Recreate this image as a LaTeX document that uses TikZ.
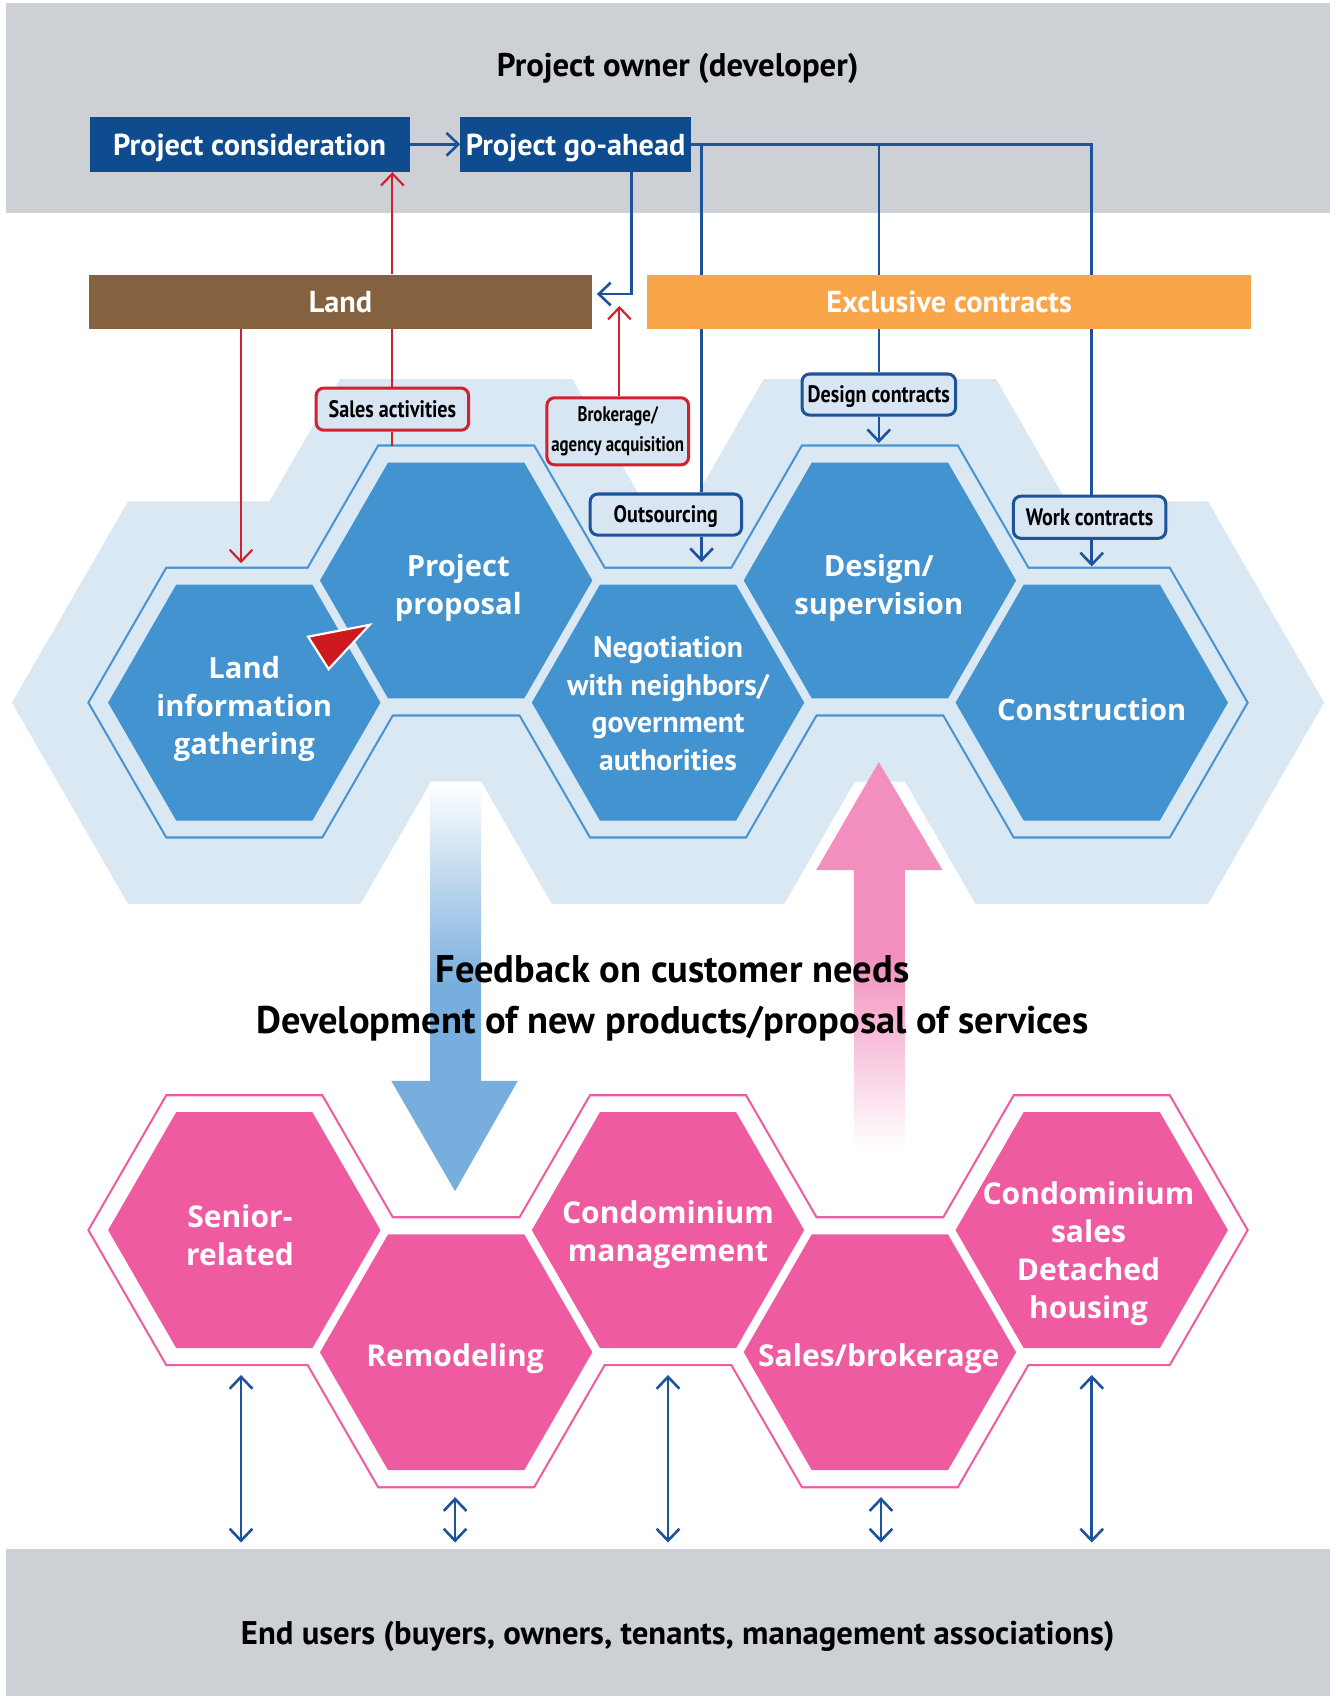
\documentclass[tikz,border=0pt]{standalone}
\usepackage{fontspec}
\setmainfont{PT Sans}
\newfontfamily\hexfont{Open Sans}
\newfontfamily\condfont{PT Sans}[FakeStretch=0.845]
\newfontfamily\condfontb{PT Sans}[FakeStretch=0.8]
\usetikzlibrary{arrows.meta}
\definecolor{bandgray}{HTML}{CDD1D5}
\definecolor{darkblue}{HTML}{0F4C8F}
\definecolor{brown}{HTML}{85623F}
\definecolor{orange}{HTML}{F9A54A}
\definecolor{bgblue}{HTML}{DAE8F4}
\definecolor{hexblue}{HTML}{4393D0}
\definecolor{hexline}{HTML}{4A93D1}
\definecolor{hexpink}{HTML}{EF5BA1}
\definecolor{lineblue}{HTML}{1C539A}
\definecolor{linered}{HTML}{D1202F}
\definecolor{labfill}{HTML}{D8E5F3}
\definecolor{arrowblue}{HTML}{78AEDD}
\definecolor{arrowpink}{HTML}{F28FBE}
\definecolor{trired}{HTML}{CC1A1E}
\newcommand\myhex[3]{\path[#1] (#2) ++(0:#3) -- ++(120:#3) -- ++(180:#3) -- ++(240:#3) -- ++(300:#3) -- ++(0:#3) -- cycle;}
\tikzset{
  >={Straight Barb[length=11pt,width=21pt]},
  bluebox/.style={fill=darkblue, text=white, minimum height=51pt, inner sep=0pt, text height=21pt, text depth=1pt, font=\fontsize{28}{32}\selectfont\bfseries},
  barbox/.style={minimum height=50pt, inner sep=0pt, text=white, text height=21pt, text depth=1pt, font=\fontsize{28}{32}\selectfont\bfseries},
  lab/.style={draw, line width=2.8pt, rounded corners=7pt, fill=labfill, inner sep=0pt, align=center, font=\condfont\bfseries\fontsize{22}{24}\selectfont},
  onelab/.style={lab, text height=16pt, text depth=1pt},
  bline/.style={draw=lineblue, line width=2.4pt},
  rline/.style={draw=linered, line width=2pt},
  hextext/.style={text=white, align=center, font=\hexfont\bfseries\fontsize{27}{35}\selectfont},
  pinktext/.style={text=white, align=center, font=\hexfont\bfseries\fontsize{27.8}{35}\selectfont},
  negtext/.style={text=white, align=center, font=\bfseries\fontsize{27.5}{35}\selectfont},
  head/.style={font=\bfseries\fontsize{30.3}{34}\selectfont},
  bighead/.style={font=\bfseries\fontsize{35.6}{40}\selectfont},
}
\begin{document}
\begin{tikzpicture}[x=1pt,y=-1pt]
\useasboundingbox (0,0) rectangle (1237,1569);
% bands
\fill[bandgray] (6,3) rectangle (1230,197);
\fill[bandgray] (6,1433) rectangle (1230,1569);
\node[head] (owner) at (627,63) {Project owner (developer)};
\node[head] (users) at (627,1514) {End users (buyers, owners, tenants, management associations)};
% hex centres
\coordinate (b1) at (226,650);
\coordinate (b2) at (422,537);
\coordinate (b3) at (618,650);
\coordinate (b4) at (814,537);
\coordinate (b5) at (1010,650);
\coordinate (p1) at (226,1138);
\coordinate (p2) at (422,1251);
\coordinate (p3) at (618,1138);
\coordinate (p4) at (814,1251);
\coordinate (p5) at (1010,1138);
% background
\foreach \c in {b1,b2,b3,b4,b5} {\myhex{fill=bgblue}{\c}{215}}
\foreach \c in {b1,b2,b3,b4,b5} {\myhex{draw=hexline,line width=4pt}{\c}{143}}
\foreach \c in {b1,b2,b3,b4,b5} {\myhex{fill=bgblue}{\c}{143}}
\foreach \c in {b1,b2,b3,b4,b5} {\myhex{fill=hexblue}{\c}{126}}
\foreach \c in {p1,p2,p3,p4,p5} {\myhex{draw=hexpink,line width=4pt}{\c}{143}}
\foreach \c in {p1,p2,p3,p4,p5} {\myhex{fill=white}{\c}{143}}
\foreach \c in {p1,p2,p3,p4,p5} {\myhex{fill=hexpink}{\c}{126}}
% hex texts
\node[hextext] (t1) at (226,656) {Land\\information\\gathering};
\node[hextext] (t2) at (424,544) {Project\\proposal};
\node[negtext] (t3) at (618,651) {Negotiation\\with neighbors/\\government\\authorities};
\node[hextext] (t4) at (813,544) {Design/\\supervision};
\node[hextext] (t5) at (1010,656) {Construction};
\node[pinktext] (q1) at (222,1143) {Senior-\\related};
\node[pinktext] (q2) at (421,1257) {Remodeling};
\node[pinktext] (q3) at (618,1142) {Condominium\\management};
\node[pinktext] (q4) at (813,1257) {Sales/brokerage};
\node[pinktext] (q5) at (1007,1160) {Condominium\\sales\\Detached\\housing};
% red triangle
\filldraw[fill=trired, draw=white, line width=2pt, line join=miter] (285,589) -- (342,578) -- (304,619) -- cycle;
% boxes
\node[bluebox, minimum width=296pt] (pc) at (231,133.5) {Project consideration};
\node[bluebox, minimum width=213pt] (pg) at (532.5,133.5) {Project go-ahead};
\node[onelab, draw=linered, minimum width=141pt, minimum height=39pt] (sales) at (363,378.5) {Sales activities};
\node[lab, draw=linered, minimum width=131pt, minimum height=62pt, font=\condfontb\bfseries\fontsize{19.5}{27}\selectfont] (brok) at (571.5,399) {Brokerage/\\agency acquisition};
\node[onelab, draw=lineblue, minimum width=140pt, minimum height=38pt] (outs) at (616,476) {Outsourcing};
\node[onelab, draw=lineblue, minimum width=142pt, minimum height=38pt] (dcon) at (813,365) {Design contracts};
\node[onelab, draw=lineblue, minimum width=141pt, minimum height=39pt] (wcon) at (1008,478.5) {Work contracts};
% coordinates
\coordinate (ot) at (649,520);
\coordinate (dt) at (813,410);
\coordinate (wt) at (1010,524);
\coordinate (lt) at (223,521);
\coordinate (bt) at (573,283);
\coordinate (st) at (363,413);
% blue lines
\draw[bline,->] (pc) -- (pg);
\draw[bline] (pg.east) -- (pg.east -| wt) -- (wcon.north -| wt);
\draw[bline] (pg.east -| ot) -- (outs.north -| ot);
\draw[bline] (pg.east -| dt) -- (dcon.north);
\draw[bline,->] (outs.south -| ot) -- (ot);
\draw[bline,->] (dcon.south) -- (dt);
\draw[bline,->] (wcon.south -| wt) -- (wt);
% bars
\node[barbox, fill=brown, minimum width=466pt] (land) at (315,279) {Land};
\node[barbox, fill=orange, minimum width=558pt] (excl) at (878,279) {Exclusive contracts};
\draw[bline,->,shorten >=4pt] ([xshift=51.5pt]pg.south) |- ([yshift=7pt]land.east);
% red lines
\draw[rline,->] (land.north -| sales.north) -- (pc.south -| sales.north);
\draw[rline] (land.south -| sales.north) -- (sales.north);
\draw[rline] (sales.south) -- (st);
\draw[rline,->] (land.south -| lt) -- (lt);
\draw[rline,->] (brok.north -| bt) -- (bt);
% big arrows
\path[top color=white, bottom color=arrowblue, middle color=arrowblue] (398,723) -- (445,723) -- (445,1000) -- (479,1000) -- (421,1102) -- (362,1000) -- (398,1000) -- cycle;
\path[top color=arrowpink, bottom color=white, middle color=arrowpink] (813,705) -- (872,805) -- (837,805) -- (837,1063) -- (790,1063) -- (790,805) -- (755,805) -- cycle;
\node[bighead] (fb) at (622,897) {Feedback on customer needs};
\node[bighead] (dev) at (622,947) {Development of new products/proposal of services};
% bottom arrows
\coordinate (a1t) at (223,1272); \coordinate (a1b) at (223,1427);
\coordinate (a2t) at (421,1385); \coordinate (a2b) at (421,1427);
\coordinate (a3t) at (618,1272); \coordinate (a3b) at (618,1427);
\coordinate (a4t) at (815,1385); \coordinate (a4b) at (815,1427);
\coordinate (a5t) at (1010,1272); \coordinate (a5b) at (1010,1427);
\foreach \i in {1,...,5} {\draw[bline,<->] (a\i t) -- (a\i b);}
\end{tikzpicture}
\end{document}
